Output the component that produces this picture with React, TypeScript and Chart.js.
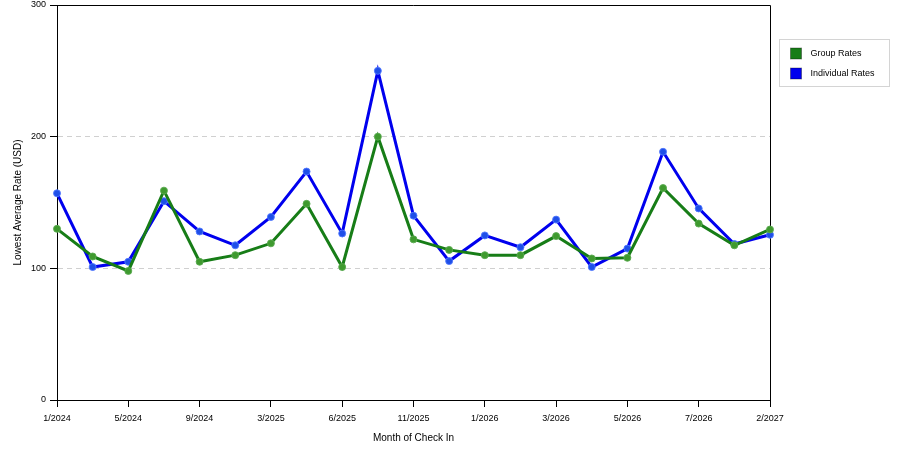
import { useEffect, useRef } from "react";
import { Chart, registerables, Plugin } from "chart.js";

Chart.register(...registerables);

// months of check in (only every other one is labelled on the axis)
const months = [
  "1/2024", "3/2024", "5/2024", "7/2024", "9/2024", "1/2025", "3/2025",
  "5/2025", "6/2025", "8/2025", "11/2025", "12/2025", "1/2026", "2/2026",
  "3/2026", "4/2026", "5/2026", "6/2026", "7/2026", "10/2026", "2/2027",
];

const groupRates = [
  130, 109, 98, 159, 105, 110, 119, 149, 101, 200, 122,
  114, 110, 110, 124.5, 107.5, 108, 161, 134, 117.5, 129.5,
];

const individualRates = [
  157, 101, 105, 151, 128, 117.5, 139, 173.5, 126.5, 250, 140,
  105.5, 125, 116, 137, 101, 115, 188.5, 145.5, 118.5, 125.5,
];

const yTicks = [0, 100, 200, 300];

const GREEN = "#177d17";
const BLUE = "#0000ee";
const FONT = "'Liberation Sans', Arial, sans-serif";

// top + right lines of the plot box
const framePlugin: Plugin = {
  id: "frame",
  beforeDatasetsDraw(chart) {
    const { ctx, chartArea } = chart;
    ctx.save();
    ctx.strokeStyle = "#000";
    ctx.lineWidth = 1;
    ctx.beginPath();
    ctx.moveTo(chartArea.left, chartArea.top + 0.5);
    ctx.lineTo(chartArea.right + 0.5, chartArea.top + 0.5);
    ctx.lineTo(chartArea.right + 0.5, chartArea.bottom);
    ctx.stroke();
    ctx.restore();
  },
};

// boxed legend on the right, like the original image
const legendPlugin: Plugin = {
  id: "boxLegend",
  afterDraw(chart) {
    const { ctx, chartArea } = chart;
    const x = Math.round(chartArea.right) + 9.5;
    const y = 39.5;
    ctx.save();
    ctx.strokeStyle = "#d4d4d4";
    ctx.lineWidth = 1;
    ctx.fillStyle = "#fff";
    ctx.fillRect(x, y, 110, 47);
    ctx.strokeRect(x, y, 110, 47);
    ctx.font = `9px ${FONT}`;
    ctx.textBaseline = "middle";
    chart.data.datasets.forEach((ds, i) => {
      const top = 48 + i * 20;
      ctx.fillStyle = ds.borderColor as string;
      ctx.fillRect(x + 11, top, 11, 11);
      ctx.strokeStyle = "rgba(0,0,0,0.35)";
      ctx.strokeRect(x + 11, top, 11, 11);
      ctx.fillStyle = "#000";
      ctx.fillText(ds.label ?? "", x + 31, top + 6);
    });
    ctx.restore();
  },
};

export default function App() {
  const canvasRef = useRef<HTMLCanvasElement>(null);

  useEffect(() => {
    if (!canvasRef.current) return;

    const chart = new Chart(canvasRef.current, {
      type: "line",
      data: {
        labels: months,
        datasets: [
          {
            label: "Group Rates",
            data: groupRates,
            borderColor: GREEN,
            backgroundColor: GREEN,
            borderWidth: 3,
            pointRadius: 3.5,
            pointBackgroundColor: "#3f9a2f",
            pointBorderColor: "rgba(90,170,80,0.9)",
            pointBorderWidth: 1,
            tension: 0,
            clip: false,
          },
          {
            label: "Individual Rates",
            data: individualRates,
            borderColor: BLUE,
            backgroundColor: BLUE,
            borderWidth: 3,
            pointRadius: 3.5,
            pointBackgroundColor: "#1f4fe8",
            pointBorderColor: "rgba(80,120,255,0.9)",
            pointBorderWidth: 1,
            tension: 0,
            clip: false,
          },
        ],
      },
      options: {
        responsive: true,
        maintainAspectRatio: false,
        animation: false,
        layout: { padding: { top: 5, right: 130, left: 0, bottom: 0 } },
        plugins: {
          legend: { display: false },
          tooltip: { enabled: false },
        },
        scales: {
          x: {
            type: "category",
            offset: false,
            grid: {
              drawOnChartArea: false,
              tickLength: 7,
              tickColor: (ctx) => (ctx.index % 2 === 0 ? "#000" : "rgba(0,0,0,0)"),
            },
            border: { color: "#000", width: 1 },
            ticks: {
              autoSkip: false,
              maxRotation: 0,
              color: "#000",
              padding: 6,
              font: { family: FONT, size: 9 },
              callback: (_v, i) => (i % 2 === 0 ? months[i] : ""),
            },
            title: {
              display: true,
              text: "Month of Check In",
              color: "#000",
              font: { family: FONT, size: 10 },
              padding: { top: 4, bottom: 6 },
            },
            afterFit: (s) => {
              s.height = 50;
              s.paddingLeft = 0;
              s.paddingRight = 0;
            },
          },
          y: {
            min: 0,
            max: 300,
            afterBuildTicks: (s) => {
              s.ticks = yTicks.map((v) => ({ value: v }));
            },
            grid: {
              color: (ctx) =>
                ctx.tick && (ctx.tick.value === 0 || ctx.tick.value === 300)
                  ? "rgba(0,0,0,0)"
                  : "#d0d0d0",
              tickColor: "#000",
              tickLength: 7,
            },
            border: { color: "#000", width: 1, dash: [5, 4] },
            ticks: {
              color: "#000",
              padding: 4,
              font: { family: FONT, size: 9 },
            },
            title: {
              display: true,
              text: "Lowest Average Rate (USD)",
              color: "#000",
              font: { family: FONT, size: 10 },
              padding: { top: 12, bottom: 0 },
            },
            afterFit: (s) => {
              s.width = 57;
              s.paddingTop = 0;
              s.paddingBottom = 0;
            },
          },
        },
      },
      plugins: [framePlugin, legendPlugin],
    });

    return () => chart.destroy();
  }, []);

  return (
    <div style={{ position: "fixed", left: 0, top: 0, width: 900, height: 450, background: "#fff" }}>
      <canvas ref={canvasRef} />
    </div>
  );
}
